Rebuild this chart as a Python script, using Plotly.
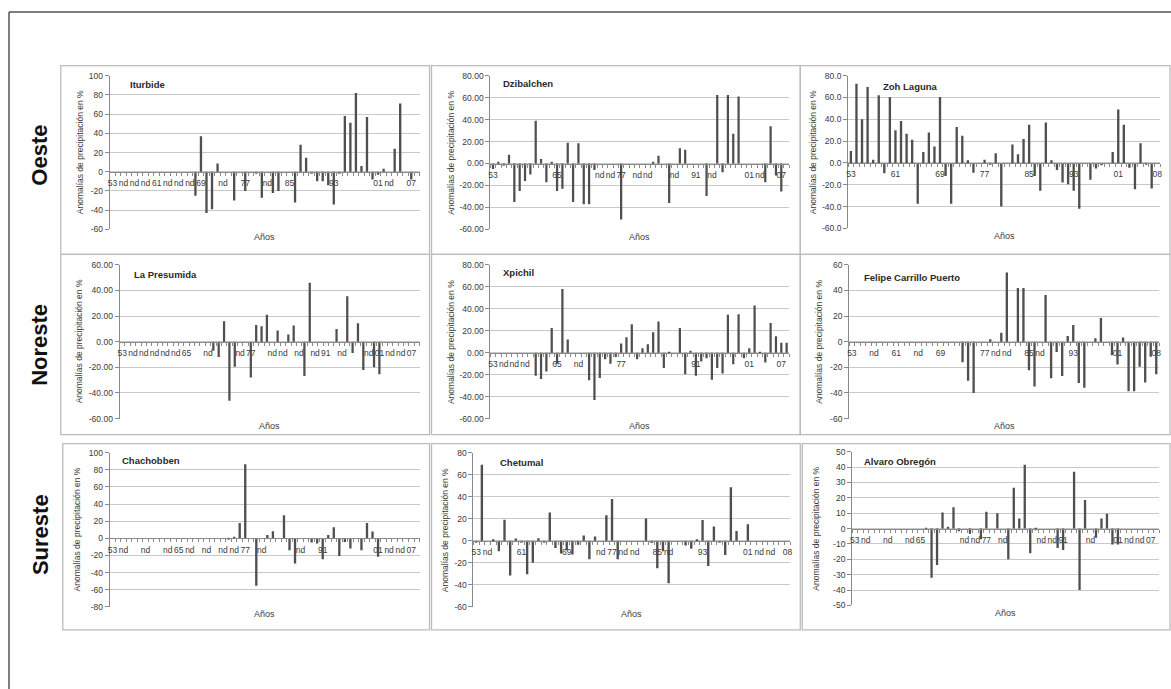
import plotly.graph_objects as go

# ---------------------------------------------------------------- data
YEARS = list(range(1953, 2009))  # categories 1953 ... 2008

ITURBIDE = [
    None, None, None, None, None, None, None, None,
    None, None, None, None, None, None, None, -25,
    37, -43, -39, 8.5, None, None, -30, None,
    -20, None, -1, -27, None, -22, -20, None,
    None, -32, 28, 14.5, -1, -10, -10, -14,
    -34, -2, 58, 51, 82, 6, 57, -8,
    -3, 3, None, 24, 71, None, -8, None,
]
DZIBALCHEN = [
    -5, 1, -2, 8, -35, -25, -16, -10,
    39, 4, -17, 1, -25, -23, 19, -35,
    18.5, -37, -37, -6, None, None, None, None,
    -51, None, None, None, None, None, 1, 7,
    None, -36, None, 14, 12.5, None, None, None,
    -29.5, None, 62.5, -8, 62.5, 27, 61, None,
    None, None, None, -17, 34, -11, -25.5, None,
]
ZOH_LAGUNA = [
    11, 72.5, 40, 69.5, 3, 62, -9.5, 60.5,
    30, 38.5, 26.7, 21.3, -37.4, 10, 28, 15,
    60.5, -12, -37.4, 33, 25, 2.5, -9, None,
    3, -1, 9, -40, None, 17, 8, 22,
    35, -12, -25.5, 37, 2.5, -6.5, -18, -19.5,
    -25.5, -42, None, -15.5, -5, -2, None, 10,
    49, 35, -4.5, -24, 18, -1, -23.5, None,
]
LA_PRESUMIDA = [
    None, None, None, None, None, None, None, None,
    None, None, None, None, None, None, None, None,
    None, -7, -12, 16, -46, -19.5, None, None,
    -28, 13, 12, 21, None, 8.7, None, 5.6,
    12.6, None, -26.7, 46, None, None, None, None,
    10, None, 35.6, -8.7, 14.4, -22, None, -20,
    -25.4, None, None, None, None, None, None, None,
]
XPICHIL = [
    None, None, None, None, None, None, None, None,
    -21, -24, -17, 22.6, -10, 58, 12, None,
    None, None, -25, -43, -23, -6, -10, -4,
    8.5, 14, 26, -6, 4, 7.6, 18.7, 28.5,
    -14, -1, None, 22.6, -19.5, 1.3, -21, -8,
    -5, -24.7, -14, -19, 34.5, -10.6, 35, -5,
    4, 43, -1, -9, 27, 15, 9, 9,
]
FELIPE_CARRILLO = [
    None, None, None, None, None, None, None, None,
    None, None, None, None, None, None, None, None,
    None, None, None, None, -16, -30.5, -40, None,
    None, 2, None, 7, 54, None, 42, 42,
    -22.3, -35, None, 36.4, -28.5, -8, -26.7, 4.4,
    13, -32.3, -36, None, 2.8, 18.5, None, -10.5,
    -17.7, 3.3, -38.7, -38.7, -19.5, -31.8, -11.8, -25.4,
]
CHACHOBBEN = [
    None, None, None, None, None, None, None, None,
    None, None, None, None, None, None, None, None,
    None, None, None, None, None, -1, 2, 18,
    86.5, None, -55.5, None, 4, 8.3, None, 27,
    -14, -29.5, None, None, -5, -6, -24.4, 4,
    13, -20.5, -4.4, -12, None, -14, 18, 8,
    -21.6, None, None, None, None, None, None, None,
]
CHETUMAL = [
    -1, 69, None, 1.5, -9.5, 19, -31.6, 2,
    -1, -30.4, -20, 2.4, -1, 25.7, -6.6, -11.6,
    -8.7, -12.5, -3.6, 4.8, -16.7, 3.9, None, 23.3,
    38, -16.7, None, None, None, None, 20.3, -2,
    -25, -9.5, -38.5, None, None, -4.2, -7.2, 1.5,
    18.8, -23, 13, -1, -13, 48.6, 9, None,
    15, None, None, None, None, None, None, None,
]
ALVARO_OBREGON = [
    None, None, None, None, None, None, None, None,
    None, None, None, None, None, 0.5, -32, -23.7,
    10.5, 1, 13.9, -1.7, None, -3.4, None, -7,
    11, None, 10, None, -20, 26.5, 6.6, 41.5,
    -16, -1, None, None, None, -12.6, -14, None,
    37, -40, 18.6, None, -6, 6.6, 9.6, -10.3,
    -10.3, None, None, None, None, None, None, None,
]

# category-axis labels (year position, text)
ITURBIDE_TICK_YEARS = [1953, 1955, 1957, 1959, 1961, 1963, 1965, 1967, 1969, 1973, 1977, 1981, 1985, 1993, 2001, 2003, 2007]
ITURBIDE_TICK_TEXT = ["53", "nd", "nd", "nd", "61", "nd", "nd", "nd", "69", "nd", "77", "nd", "85", "93", "01", "nd", "07"]
DZIBALCHEN_TICK_YEARS = [1953, 1965, 1973, 1975, 1977, 1980, 1982, 1987, 1991, 1994, 2001, 2003, 2007]
DZIBALCHEN_TICK_TEXT = ["53", "65", "nd", "nd", "77", "nd", "nd", "nd", "91", "nd", "01", "nd", "07"]
ZOH_TICK_YEARS = [1953, 1961, 1969, 1977, 1985, 1993, 2001, 2008]
ZOH_TICK_TEXT = ["53", "61", "69", "77", "85", "93", "01", "08"]
PRESUMIDA_TICK_YEARS = [1953, 1955, 1957, 1959, 1961, 1963, 1965, 1969, 1975, 1977, 1981, 1983, 1986, 1989, 1991, 1994, 1999, 2001, 2003, 2005, 2007]
PRESUMIDA_TICK_TEXT = ["53", "nd", "nd", "nd", "nd", "nd", "65", "nd", "nd", "77", "nd", "nd", "nd", "nd", "91", "nd", "nd", "01", "nd", "nd", "07"]
XPICHIL_TICK_YEARS = [1953, 1955, 1957, 1959, 1965, 1969, 1977, 1991, 2001, 2007]
XPICHIL_TICK_TEXT = ["53", "nd", "nd", "nd", "65", "nd", "77", "91", "01", "07"]
FELIPE_TICK_YEARS = [1953, 1957, 1961, 1965, 1969, 1977, 1979, 1981, 1985, 1987, 1993, 2001, 2008]
FELIPE_TICK_TEXT = ["53", "nd", "61", "nd", "69", "77", "nd", "nd", "85", "nd", "93", "01", "08"]
CHACHOBBEN_TICK_YEARS = [1953, 1955, 1959, 1963, 1965, 1967, 1970, 1973, 1975, 1977, 1980, 1987, 1991, 2001, 2003, 2005, 2007]
CHACHOBBEN_TICK_TEXT = ["53", "nd", "nd", "nd", "65", "nd", "nd", "nd", "nd", "77", "nd", "nd", "91", "01", "nd", "nd", "07"]
CHETUMAL_TICK_YEARS = [1953, 1955, 1961, 1969, 1975, 1977, 1979, 1981, 1985, 1987, 1993, 2001, 2003, 2005, 2008]
CHETUMAL_TICK_TEXT = ["53", "nd", "61", "69", "nd", "77", "nd", "nd", "85", "nd", "93", "01", "nd", "nd", "08"]
ALVARO_TICK_YEARS = [1953, 1955, 1959, 1963, 1965, 1973, 1975, 1977, 1980, 1987, 1989, 1991, 1996, 2001, 2003, 2005, 2007]
ALVARO_TICK_TEXT = ["53", "nd", "nd", "nd", "65", "nd", "nd", "77", "nd", "nd", "nd", "91", "nd", "01", "nd", "nd", "07"]

STATION_NAMES = ["Iturbide", "Dzibalchen", "Zoh Laguna",
                 "La Presumida", "Xpichil", "Felipe Carrillo Puerto",
                 "Chachobben", "Chetumal", "Alvaro Obregón"]
REGIONS = ["Oeste", "Noreste", "Sureste"]
Y_TITLE = "Anomalías de precipitación en %"
X_TITLE = "Años"

SERIES = [ITURBIDE, DZIBALCHEN, ZOH_LAGUNA, LA_PRESUMIDA, XPICHIL,
          FELIPE_CARRILLO, CHACHOBBEN, CHETUMAL, ALVARO_OBREGON]
TICK_YEARS = [ITURBIDE_TICK_YEARS, DZIBALCHEN_TICK_YEARS, ZOH_TICK_YEARS,
              PRESUMIDA_TICK_YEARS, XPICHIL_TICK_YEARS, FELIPE_TICK_YEARS,
              CHACHOBBEN_TICK_YEARS, CHETUMAL_TICK_YEARS, ALVARO_TICK_YEARS]
TICK_TEXT = [ITURBIDE_TICK_TEXT, DZIBALCHEN_TICK_TEXT, ZOH_TICK_TEXT,
             PRESUMIDA_TICK_TEXT, XPICHIL_TICK_TEXT, FELIPE_TICK_TEXT,
             CHACHOBBEN_TICK_TEXT, CHETUMAL_TICK_TEXT, ALVARO_TICK_TEXT]
Y_RANGES = [(-60, 100), (-60, 80), (-60, 80),
            (-60, 60), (-60, 80), (-60, 60),
            (-80, 100), (-60, 80), (-50, 50)]
Y_STEPS = [20, 20, 20, 20, 20, 20, 20, 20, 10]
Y_DECIMALS = [0, 2, 1, 2, 2, 0, 0, 0, 0]

# ---------------------------------------------------------------- layout (pixels)
W, H = 1171, 689
# plot areas: x0, x1, y0(top), y1(bottom)
PLOT_PX = [(108, 419, 71.7, 227.7), (490, 790, 71.7, 227.7), (849, 1162, 71.7, 226.7),
           (118, 419, 263.7, 419.7), (490, 790, 263.7, 419.7), (850, 1161, 263.7, 419.7),
           (108, 419, 454.3, 610.7), (473, 791, 454.3, 610.7), (853, 1161, 453.3, 609.3)]
# panel boxes: x0, x1, y0, y1
BOX_PX = [(59, 429, 61.5, 253), (431, 801, 61.5, 253), (801, 1172, 61.5, 253),
          (59, 429, 253, 436), (431, 801, 253, 436), (801, 1172, 253, 436),
          (61, 429, 445, 634), (431, 801, 445, 634), (803, 1172, 445, 634)]
YTITLE_OFF = [30, 40, 35, 41, 40, 30, 33, 29, 36]
NAME_OFF = [(18, 9), (11, 7.6), (33, 11), (12, 10), (11, 7.3), (13, 12.3), (10, 7.4), (25, 9.7), (10, 9.7)]
REGION_Y = [152, 345, 537]

FONT = "Liberation Sans, Arial, sans-serif"
GRID = "#c9c9c9"
AXIS = "#8a8a8a"
TXT = "#3a3a3a"
BAR = "#4f4f4f"

fig = go.Figure()
layout = dict(
    width=W, height=H, margin=dict(l=0, r=0, t=0, b=0),
    paper_bgcolor="white", plot_bgcolor="white",
    font=dict(family=FONT, color=TXT, size=9),
    showlegend=False, bargap=0.5,
)
annotations = []
shapes = []

for i in range(9):
    n = i + 1
    xs = "" if n == 1 else str(n)
    x0, x1, ty, by = PLOT_PX[i]
    ymin, ymax = Y_RANGES[i]
    ydom = [1 - by / H, 1 - ty / H]
    zero_pos = ydom[0] + (0 - ymin) / (ymax - ymin) * (ydom[1] - ydom[0])
    yticks = list(range(ymin, ymax + 1, Y_STEPS[i]))
    ytext = [("%." + str(Y_DECIMALS[i]) + "f") % v for v in yticks]

    fig.add_trace(go.Bar(
        x=YEARS, y=SERIES[i], xaxis="x" + xs, yaxis="y" + xs,
        marker=dict(color=BAR, line=dict(width=0)), width=0.42,
        name=STATION_NAMES[i], hoverinfo="x+y",
    ))

    layout["xaxis" + xs] = dict(
        domain=[x0 / W, x1 / W], range=[1952.5, 2008.5],
        anchor="free", position=zero_pos,
        showline=True, linecolor=AXIS, linewidth=1,
        tickmode="array", tickvals=TICK_YEARS[i], ticktext=TICK_TEXT[i],
        ticks="", ticklen=0, tickangle=0,
        tickfont=dict(size=8.5, color=TXT),
        ticklabelstandoff=3,
        showgrid=False, zeroline=False, fixedrange=True,
        minor=dict(ticks="outside", ticklen=3, tickcolor=AXIS,
                   tick0=1952.5, dtick=1, showgrid=False),
    )
    layout["yaxis" + xs] = dict(
        domain=ydom, range=[ymin, ymax], anchor="x" + xs,
        tickmode="array", tickvals=yticks, ticktext=ytext,
        showgrid=True, gridcolor=GRID, gridwidth=1, zeroline=False,
        showline=True, linecolor=AXIS, linewidth=1,
        ticks="outside", ticklen=4, tickcolor=AXIS,
        tickfont=dict(size=8.5, color=TXT), fixedrange=True,
    )

    # station name
    annotations.append(dict(
        text="<b>%s</b>" % STATION_NAMES[i], showarrow=False,
        xref="x%s domain" % xs, yref="y%s domain" % xs,
        x=0, y=1, xanchor="left", yanchor="middle",
        xshift=NAME_OFF[i][0], yshift=-NAME_OFF[i][1],
        font=dict(size=9.5, color="#2a2a2a"),
    ))
    # y title
    annotations.append(dict(
        text=Y_TITLE, showarrow=False, textangle=-90,
        xref="x%s domain" % xs, yref="y%s domain" % xs,
        x=0, y=0.5, xanchor="center", yanchor="middle",
        xshift=-YTITLE_OFF[i], font=dict(size=8.5, color=TXT),
    ))
    # x title
    annotations.append(dict(
        text=X_TITLE, showarrow=False,
        xref="x%s domain" % xs, yref="y%s domain" % xs,
        x=0.5, y=0, xanchor="center", yanchor="middle",
        yshift=-7.5, font=dict(size=9, color=TXT),
    ))
    # panel frame
    bx0, bx1, by0, by1 = BOX_PX[i]
    shapes.append(dict(
        type="rect", xref="paper", yref="paper",
        x0=bx0 / W, x1=bx1 / W, y0=1 - by1 / H, y1=1 - by0 / H,
        line=dict(color="#bcbcbc", width=1.3), layer="below",
    ))

for r, label in enumerate(REGIONS):
    annotations.append(dict(
        text="<b>%s</b>" % label, showarrow=False, textangle=-90,
        xref="paper", yref="paper", x=38 / W, y=1 - REGION_Y[r] / H,
        xanchor="center", yanchor="middle",
        font=dict(size=22, color="#111111", family=FONT),
    ))

# outer frame (left and top edges)
shapes.append(dict(type="line", xref="paper", yref="paper",
                   x0=7 / W, x1=7 / W, y0=-0.01, y1=1 - 7 / H,
                   line=dict(color="#555555", width=1.5)))
shapes.append(dict(type="line", xref="paper", yref="paper",
                   x0=7 / W, x1=1.01, y0=1 - 7 / H, y1=1 - 7 / H,
                   line=dict(color="#555555", width=1.5)))

layout["annotations"] = annotations
layout["shapes"] = shapes
fig.update_layout(**layout)

fig.write_html(
    "out.html",
    config={"displayModeBar": False},
    post_script="document.body.style.margin='0';document.body.style.padding='0';"
                "document.body.style.overflow='hidden';"
                "document.documentElement.style.overflow='hidden';",
)
